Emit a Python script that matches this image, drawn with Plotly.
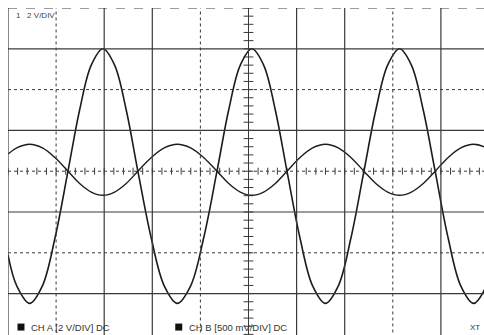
import plotly.graph_objects as go

# ---- data (in screen divisions) ----
# Channel A (2 V/DIV): sample points x (div), y (div)
cha_x = [0.0, 0.182, 0.45, 0.715, 0.98, 1.247,
         1.489, 1.731, 1.974, 2.216, 2.458, 2.70,
         2.974, 3.248, 3.52, 3.797, 4.071, 4.345,
         4.588, 4.83, 5.07, 5.315, 5.557, 5.80,
         6.067, 6.333, 6.6, 6.867, 7.133, 7.40,
         7.647, 7.893, 8.14, 8.387, 8.633, 8.88,
         9.147, 9.413, 9.68, 9.947, 10.2]
cha_y = [-2.05, -2.81, -3.24, -2.81, -1.62, 0.0,
         1.5, 2.6, 3.0, 2.6, 1.5, 0.0,
         -1.62, -2.81, -3.24, -2.81, -1.62, 0.0,
         1.5, 2.6, 3.0, 2.6, 1.5, 0.0,
         -1.62, -2.81, -3.24, -2.81, -1.62, 0.0,
         1.5, 2.6, 3.0, 2.6, 1.5, 0.0,
         -1.62, -2.81, -3.24, -2.81, -1.7]
# Channel B (500 mV/DIV)
chb_x = cha_x
chb_y = [0.42, 0.57, 0.66, 0.57, 0.33, 0.0,
         -0.3, -0.51, -0.59, -0.51, -0.3, 0.0,
         0.33, 0.57, 0.66, 0.57, 0.33, 0.0,
         -0.3, -0.51, -0.59, -0.51, -0.3, 0.0,
         0.33, 0.57, 0.66, 0.57, 0.33, 0.0,
         -0.3, -0.51, -0.59, -0.51, -0.3, 0.0,
         0.33, 0.57, 0.66, 0.57, 0.35]

labels = ["CH A [2 V/DIV] DC", "CH B [500 mV/DIV] DC"]
label_x = [0.27, 3.55]
scale_text = "1   2 V/DIV"
mode_text = "XT"

# grid styles
vgrid = {0: "solid", 1: "dot", 2: "solid", 3: "solid", 4: "dot",
         6: "solid", 7: "solid", 8: "dot", 9: "solid"}
hgrid = {4: "dash", 3: "solid", 2: "dot", 1: "solid",
         -1: "solid", -2: "dot", -3: "solid"}

INK = "#1c1c1c"
GRID = "#3a3a3a"

fig = go.Figure()
shapes = []
for xv, d in vgrid.items():
    shapes.append(dict(type="line", x0=xv, x1=xv, y0=-4.1, y1=4, xref="x", yref="y",
                       line=dict(color=GRID, width=1.2 if d == "solid" else 1, dash=d)))
for yv, d in hgrid.items():
    shapes.append(dict(type="line", x0=0, x1=10.2, y0=yv, y1=yv, xref="x", yref="y",
                       line=dict(color=GRID, width=1.2 if d == "solid" else 1, dash=d)))
# center axes
shapes.append(dict(type="line", x0=5, x1=5, y0=-4.1, y1=4, line=dict(color=GRID, width=1)))
shapes.append(dict(type="line", x0=0, x1=10.2, y0=0, y1=0, line=dict(color=GRID, width=1, dash="dot")))
fig.update_layout(shapes=shapes)

# center ticks
tx = [i / 5 for i in range(0, 51)]
fig.add_trace(go.Scatter(x=tx, y=[0] * len(tx), mode="markers",
                         marker=dict(symbol="line-ns", size=5, line=dict(color=GRID, width=1)),
                         hoverinfo="skip", showlegend=False))
ty = [i / 5 for i in range(-20, 21)]
fig.add_trace(go.Scatter(x=[5] * len(ty), y=ty, mode="markers",
                         marker=dict(symbol="line-ew", size=7, line=dict(color=GRID, width=1)),
                         hoverinfo="skip", showlegend=False))

# waveforms
fig.add_trace(go.Scatter(x=chb_x, y=chb_y, mode="lines", line=dict(color=INK, width=1.4, shape="spline"),
                         name=labels[1], showlegend=False, hoverinfo="skip"))
fig.add_trace(go.Scatter(x=cha_x, y=cha_y, mode="lines", line=dict(color=INK, width=1.6, shape="spline"),
                         name=labels[0], showlegend=False, hoverinfo="skip"))

# label keys
fig.add_trace(go.Scatter(x=label_x, y=[-3.82, -3.82], mode="markers",
                         marker=dict(symbol="square", size=7, color="#111"),
                         hoverinfo="skip", showlegend=False))
for lx, t in zip(label_x, labels):
    fig.add_annotation(x=lx + 0.17, y=-3.82, text=t, showarrow=False, xanchor="left", yanchor="middle",
                       font=dict(family="Liberation Sans", size=9.5, color="#333"))
fig.add_annotation(x=9.57, y=-3.82, text=mode_text, showarrow=False, xanchor="left", yanchor="middle",
                   font=dict(family="Liberation Sans", size=8, color="#333"))
fig.add_annotation(x=0.12, y=3.82, text=scale_text, showarrow=False, xanchor="left", yanchor="middle",
                   font=dict(family="Liberation Sans", size=8, color="#444"))

fig.update_layout(
    width=484, height=335,
    margin=dict(l=8, r=0, t=8, b=0),
    paper_bgcolor="white", plot_bgcolor="white",
    xaxis=dict(range=[0, 476 / 48.1], showgrid=False, zeroline=False, showticklabels=False,
               showline=False, fixedrange=True),
    yaxis=dict(range=[4 - 327 / 40.8, 4], showgrid=False, zeroline=False, showticklabels=False,
               showline=False, fixedrange=True),
)
fig.write_html("out.html")
